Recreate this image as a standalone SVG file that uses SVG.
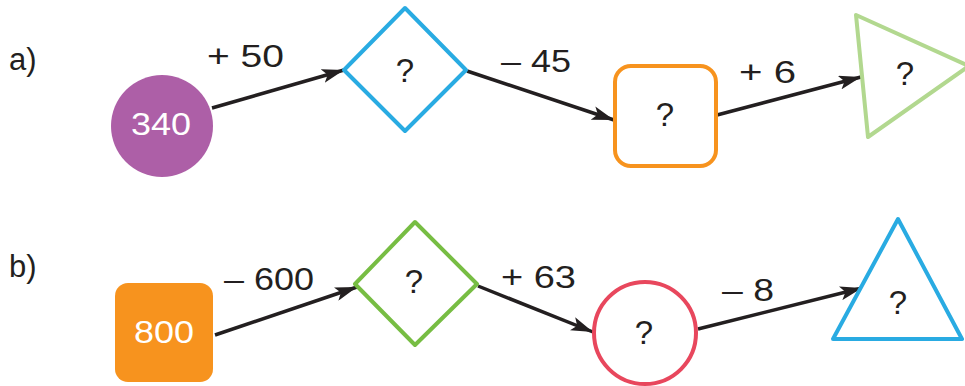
<svg xmlns="http://www.w3.org/2000/svg" width="965" height="386" viewBox="0 0 965 386">
<style>
text{font-family:"Liberation Sans",Arial,sans-serif;font-size:31px;fill:#231f20}
.w{fill:#ffffff;font-size:32px}
.c{text-anchor:middle}
.q{font-size:33px}
.ln{stroke:#231f20;stroke-width:3.5;fill:none;marker-end:url(#ah)}
.sh{fill:#ffffff;stroke-width:4;stroke-linejoin:round}
</style>
<defs>
<marker id="ah" markerUnits="userSpaceOnUse" markerWidth="24" markerHeight="14" refX="22" refY="7" orient="auto">
<path d="M0,0 L22,7 L0,14 L5,7 Z" fill="#231f20"/>
</marker>
</defs>
<rect width="965" height="386" fill="#ffffff"/>
<text x="9" y="70">a)</text>
<text x="9" y="277">b)</text>
<g id="connectors">
<line class="ln" x1="212" y1="108" x2="344" y2="70"/>
<line class="ln" x1="467" y1="71" x2="614" y2="120"/>
<line class="ln" x1="717" y1="115" x2="861" y2="77"/>
<line class="ln" x1="215" y1="335" x2="357" y2="287"/>
<line class="ln" x1="478" y1="286" x2="593" y2="332"/>
<line class="ln" x1="698" y1="329" x2="862" y2="288"/>
<text x="207" y="67" textLength="77" lengthAdjust="spacingAndGlyphs">+ 50</text>
<text x="501" y="72" textLength="70" lengthAdjust="spacingAndGlyphs">– 45</text>
<text x="739" y="83" textLength="57" lengthAdjust="spacingAndGlyphs">+ 6</text>
<text x="224" y="290" textLength="90" lengthAdjust="spacingAndGlyphs">– 600</text>
<text x="501" y="288" textLength="75" lengthAdjust="spacingAndGlyphs">+ 63</text>
<text x="722" y="301" textLength="52" lengthAdjust="spacingAndGlyphs">– 8</text>
</g>
<g id="n-a1">
<circle cx="162" cy="126" r="51" fill="#ad5fa7"/>
<text class="w" x="131" y="135" textLength="60" lengthAdjust="spacingAndGlyphs">340</text>
</g>
<g id="n-a2">
<polygon class="sh" points="405,8 466,70 405,131 344,70" stroke="#29abe2"/>
<text class="c q" x="405" y="82">?</text>
</g>
<g id="n-a3">
<rect class="sh" x="615" y="66" width="101" height="100" rx="16" stroke="#f7931e"/>
<text class="c q" x="665" y="126">?</text>
</g>
<g id="n-a4">
<polygon class="sh" points="856,15 969,66 868,137" stroke="#b2d88f"/>
<text class="c q" x="905" y="85">?</text>
</g>
<g id="n-b1">
<rect x="115" y="283" width="98" height="99" rx="13" fill="#f7931e"/>
<text class="w" x="134" y="343" textLength="60" lengthAdjust="spacingAndGlyphs">800</text>
</g>
<g id="n-b2">
<polygon class="sh" points="415,222 477,284 415,345 355,284" stroke="#77bd43"/>
<text class="c q" x="414" y="293">?</text>
</g>
<g id="n-b3">
<circle class="sh" cx="645" cy="333" r="51" stroke="#e8475d"/>
<text class="c q" x="644" y="344">?</text>
</g>
<g id="n-b4">
<polygon class="sh" points="898,219 962,339 833,339" stroke="#29abe2"/>
<text class="c q" x="898" y="314">?</text>
</g>
</svg>
